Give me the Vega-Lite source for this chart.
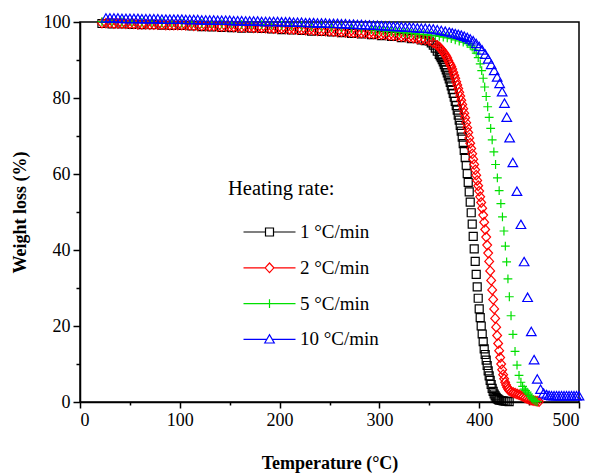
{
  "$schema": "https://vega.github.io/schema/vega-lite/v6.json",
  "width": 499,
  "height": 380,
  "autosize": {"type": "none"},
  "padding": {"left": 80, "top": 22, "right": 14, "bottom": 72},
  "background": "white",
  "config": {
    "font": "Liberation Serif",
    "view": {"stroke": "black", "strokeWidth": 1.5},
    "axis": {"grid": false, "domainColor": "black", "domainWidth": 1.5, "tickColor": "black", "tickWidth": 1.5, "labelColor": "black", "titleColor": "black", "labelFont": "Liberation Serif", "titleFont": "Liberation Serif", "labelFontSize": 18, "titleFontSize": 18, "titleFontWeight": "bold"},
    "legend": {"labelFont": "Liberation Serif", "titleFont": "Liberation Serif"}
  },
  "data": {"values": [
    {"s":"1","t":22,"w":99.6},{"s":"1","t":32,"w":99.5},{"s":"1","t":42,"w":99.5},{"s":"1","t":52,"w":99.4},{"s":"1","t":62,"w":99.3},{"s":"1","t":72,"w":99.3},{"s":"1","t":82,"w":99.2},{"s":"1","t":92,"w":99.1},{"s":"1","t":102,"w":99.1},{"s":"1","t":112,"w":99.0},{"s":"1","t":122,"w":98.8},{"s":"1","t":132,"w":98.7},{"s":"1","t":142,"w":98.6},{"s":"1","t":152,"w":98.5},{"s":"1","t":162,"w":98.4},{"s":"1","t":172,"w":98.4},{"s":"1","t":182,"w":98.3},{"s":"1","t":192,"w":98.2},{"s":"1","t":202,"w":98.0},{"s":"1","t":212,"w":97.9},{"s":"1","t":222,"w":97.8},{"s":"1","t":232,"w":97.6},{"s":"1","t":242,"w":97.5},{"s":"1","t":252,"w":97.4},{"s":"1","t":262,"w":97.2},{"s":"1","t":272,"w":97.0},{"s":"1","t":282,"w":96.9},{"s":"1","t":292,"w":96.7},{"s":"1","t":302,"w":96.4},{"s":"1","t":312,"w":96.2},{"s":"1","t":322,"w":95.9},{"s":"1","t":332,"w":95.6},{"s":"1","t":342,"w":95.3},{"s":"1","t":346,"w":95.1},
    {"s":"1","t":350,"w":95.0},{"s":"1","t":352,"w":94.5},{"s":"1","t":354,"w":93.9},{"s":"1","t":356,"w":93.1},{"s":"1","t":358,"w":92.3},{"s":"1","t":360,"w":91.5},{"s":"1","t":361,"w":91.1},{"s":"1","t":362,"w":90.6},{"s":"1","t":363,"w":90.1},{"s":"1","t":364,"w":89.5},{"s":"1","t":365,"w":88.8},{"s":"1","t":366,"w":88.1},{"s":"1","t":367,"w":87.4},{"s":"1","t":368,"w":86.6},{"s":"1","t":369,"w":85.8},{"s":"1","t":370,"w":85.0},{"s":"1","t":371,"w":84.1},{"s":"1","t":372,"w":83.2},{"s":"1","t":373,"w":82.2},{"s":"1","t":374,"w":81.2},{"s":"1","t":375,"w":80.2},{"s":"1","t":376,"w":79.1},{"s":"1","t":377,"w":78.0},{"s":"1","t":378,"w":76.8},{"s":"1","t":379,"w":75.5},{"s":"1","t":380,"w":74.2},{"s":"1","t":381,"w":72.8},{"s":"1","t":382,"w":71.3},{"s":"1","t":383,"w":69.7},{"s":"1","t":384,"w":68.0},{"s":"1","t":385,"w":66.2},{"s":"1","t":386,"w":64.3},{"s":"1","t":387,"w":62.3},{"s":"1","t":388,"w":60.1},{"s":"1","t":389,"w":57.8},{"s":"1","t":390,"w":55.3},{"s":"1","t":391,"w":52.6},{"s":"1","t":392,"w":49.8},{"s":"1","t":393,"w":46.8},{"s":"1","t":394,"w":43.6},{"s":"1","t":395,"w":40.3},{"s":"1","t":396,"w":37.0},{"s":"1","t":397,"w":33.6},{"s":"1","t":398,"w":30.3},{"s":"1","t":399,"w":27.3},{"s":"1","t":400,"w":24.5},{"s":"1","t":401,"w":22.2},{"s":"1","t":402,"w":20.0},{"s":"1","t":403,"w":17.9},{"s":"1","t":404,"w":15.9},{"s":"1","t":405,"w":14.0},{"s":"1","t":406,"w":12.5},{"s":"1","t":407,"w":11.0},{"s":"1","t":408,"w":9.6},{"s":"1","t":409,"w":8.2},{"s":"1","t":410,"w":6.9},{"s":"1","t":411,"w":5.7},{"s":"1","t":412,"w":4.6},{"s":"1","t":413,"w":3.6},{"s":"1","t":414,"w":2.8},{"s":"1","t":415,"w":2.1},{"s":"1","t":416,"w":1.6},{"s":"1","t":417,"w":1.2},{"s":"1","t":418,"w":0.9},{"s":"1","t":419,"w":0.7},{"s":"1","t":420,"w":0.5},{"s":"1","t":422,"w":0.4},{"s":"1","t":424,"w":0.3},{"s":"1","t":426,"w":0.2},{"s":"1","t":428,"w":0.2},{"s":"1","t":430,"w":0.1},
    {"s":"2","t":22,"w":99.7},{"s":"2","t":26,"w":99.7},{"s":"2","t":30,"w":99.7},{"s":"2","t":34,"w":99.6},{"s":"2","t":38,"w":99.6},{"s":"2","t":42,"w":99.6},{"s":"2","t":46,"w":99.5},{"s":"2","t":50,"w":99.5},{"s":"2","t":54,"w":99.5},{"s":"2","t":58,"w":99.4},{"s":"2","t":62,"w":99.4},{"s":"2","t":66,"w":99.4},{"s":"2","t":70,"w":99.3},{"s":"2","t":74,"w":99.3},{"s":"2","t":78,"w":99.3},{"s":"2","t":82,"w":99.3},{"s":"2","t":86,"w":99.2},{"s":"2","t":90,"w":99.2},{"s":"2","t":94,"w":99.2},{"s":"2","t":98,"w":99.2},{"s":"2","t":102,"w":99.2},{"s":"2","t":106,"w":99.1},{"s":"2","t":110,"w":99.1},{"s":"2","t":114,"w":99.0},{"s":"2","t":118,"w":99.0},{"s":"2","t":122,"w":99.0},{"s":"2","t":126,"w":98.9},{"s":"2","t":130,"w":98.9},{"s":"2","t":134,"w":98.9},{"s":"2","t":138,"w":98.8},{"s":"2","t":142,"w":98.8},{"s":"2","t":146,"w":98.8},{"s":"2","t":150,"w":98.8},{"s":"2","t":154,"w":98.7},{"s":"2","t":158,"w":98.7},{"s":"2","t":162,"w":98.6},{"s":"2","t":166,"w":98.6},{"s":"2","t":170,"w":98.6},{"s":"2","t":174,"w":98.5},{"s":"2","t":178,"w":98.5},{"s":"2","t":182,"w":98.5},{"s":"2","t":186,"w":98.4},{"s":"2","t":190,"w":98.4},{"s":"2","t":194,"w":98.3},{"s":"2","t":198,"w":98.3},{"s":"2","t":202,"w":98.3},{"s":"2","t":206,"w":98.2},{"s":"2","t":210,"w":98.1},{"s":"2","t":214,"w":98.1},{"s":"2","t":218,"w":98.0},{"s":"2","t":222,"w":98.0},{"s":"2","t":226,"w":97.9},{"s":"2","t":230,"w":97.9},{"s":"2","t":234,"w":97.8},{"s":"2","t":238,"w":97.7},{"s":"2","t":242,"w":97.7},{"s":"2","t":246,"w":97.6},{"s":"2","t":250,"w":97.6},{"s":"2","t":254,"w":97.5},{"s":"2","t":258,"w":97.4},{"s":"2","t":262,"w":97.4},{"s":"2","t":266,"w":97.3},{"s":"2","t":270,"w":97.3},{"s":"2","t":274,"w":97.2},{"s":"2","t":278,"w":97.1},{"s":"2","t":282,"w":97.1},{"s":"2","t":286,"w":97.0},{"s":"2","t":290,"w":96.9},{"s":"2","t":294,"w":96.9},{"s":"2","t":298,"w":96.8},{"s":"2","t":302,"w":96.7},{"s":"2","t":306,"w":96.6},{"s":"2","t":310,"w":96.5},{"s":"2","t":314,"w":96.4},{"s":"2","t":318,"w":96.3},{"s":"2","t":322,"w":96.2},{"s":"2","t":326,"w":96.1},{"s":"2","t":330,"w":96.0},{"s":"2","t":334,"w":95.8},{"s":"2","t":338,"w":95.6},{"s":"2","t":342,"w":95.4},{"s":"2","t":346,"w":95.3},{"s":"2","t":350,"w":95.1},{"s":"2","t":354,"w":94.5},{"s":"2","t":358,"w":93.8},
    {"s":"2","t":360,"w":93.4},{"s":"2","t":361,"w":93.1},{"s":"2","t":362,"w":92.8},{"s":"2","t":363,"w":92.5},{"s":"2","t":364,"w":92.1},{"s":"2","t":365,"w":91.8},{"s":"2","t":366,"w":91.4},{"s":"2","t":367,"w":91.0},{"s":"2","t":368,"w":90.5},{"s":"2","t":369,"w":89.9},{"s":"2","t":370,"w":89.3},{"s":"2","t":371,"w":88.8},{"s":"2","t":372,"w":88.3},{"s":"2","t":373,"w":87.6},{"s":"2","t":374,"w":86.8},{"s":"2","t":375,"w":86.0},{"s":"2","t":376,"w":85.2},{"s":"2","t":377,"w":84.3},{"s":"2","t":378,"w":83.4},{"s":"2","t":379,"w":82.5},{"s":"2","t":380,"w":81.5},{"s":"2","t":381,"w":80.5},{"s":"2","t":382,"w":79.4},{"s":"2","t":383,"w":78.3},{"s":"2","t":384,"w":77.2},{"s":"2","t":385,"w":76.0},{"s":"2","t":386,"w":74.8},{"s":"2","t":387,"w":73.5},{"s":"2","t":388,"w":72.2},{"s":"2","t":389,"w":70.9},{"s":"2","t":390,"w":69.5},{"s":"2","t":391,"w":68.1},{"s":"2","t":392,"w":66.7},{"s":"2","t":393,"w":65.3},{"s":"2","t":394,"w":63.9},{"s":"2","t":395,"w":62.5},{"s":"2","t":396,"w":61.1},{"s":"2","t":397,"w":59.7},{"s":"2","t":398,"w":58.3},{"s":"2","t":399,"w":56.9},{"s":"2","t":400,"w":55.5},{"s":"2","t":401,"w":54.0},{"s":"2","t":402,"w":52.5},{"s":"2","t":403,"w":51.0},{"s":"2","t":404,"w":49.2},{"s":"2","t":405,"w":47.3},{"s":"2","t":406,"w":45.4},{"s":"2","t":407,"w":43.4},{"s":"2","t":408,"w":41.3},{"s":"2","t":409,"w":39.2},{"s":"2","t":410,"w":37.0},{"s":"2","t":411,"w":34.5},{"s":"2","t":412,"w":32.0},{"s":"2","t":413,"w":29.5},{"s":"2","t":414,"w":27.0},{"s":"2","t":415,"w":24.5},{"s":"2","t":416,"w":22.0},{"s":"2","t":417,"w":19.7},{"s":"2","t":418,"w":17.5},{"s":"2","t":419,"w":15.4},{"s":"2","t":420,"w":13.5},{"s":"2","t":421,"w":11.7},{"s":"2","t":422,"w":10.0},{"s":"2","t":423,"w":8.5},{"s":"2","t":424,"w":7.2},{"s":"2","t":425,"w":6.1},{"s":"2","t":426,"w":5.2},{"s":"2","t":427,"w":4.5},{"s":"2","t":428,"w":3.9},{"s":"2","t":429,"w":3.4},{"s":"2","t":430,"w":3.0},{"s":"2","t":432,"w":2.7},{"s":"2","t":434,"w":2.5},{"s":"2","t":436,"w":2.3},{"s":"2","t":438,"w":2.1},{"s":"2","t":440,"w":1.9},{"s":"2","t":442,"w":1.7},{"s":"2","t":444,"w":1.4},{"s":"2","t":446,"w":1.1},{"s":"2","t":448,"w":0.9},{"s":"2","t":450,"w":0.7},{"s":"2","t":452,"w":0.5},{"s":"2","t":454,"w":0.4},{"s":"2","t":456,"w":0.3},{"s":"2","t":458,"w":0.2},{"s":"2","t":460,"w":0.1},
    {"s":"5","t":22,"w":100.1},{"s":"5","t":32,"w":100.1},{"s":"5","t":42,"w":100.0},{"s":"5","t":52,"w":100.0},{"s":"5","t":62,"w":99.9},{"s":"5","t":72,"w":99.9},{"s":"5","t":82,"w":99.8},{"s":"5","t":92,"w":99.8},{"s":"5","t":102,"w":99.7},{"s":"5","t":112,"w":99.7},{"s":"5","t":122,"w":99.6},{"s":"5","t":132,"w":99.6},{"s":"5","t":142,"w":99.5},{"s":"5","t":152,"w":99.5},{"s":"5","t":162,"w":99.4},{"s":"5","t":172,"w":99.3},{"s":"5","t":182,"w":99.3},{"s":"5","t":192,"w":99.2},{"s":"5","t":202,"w":99.1},{"s":"5","t":212,"w":99.0},{"s":"5","t":222,"w":98.9},{"s":"5","t":232,"w":98.8},{"s":"5","t":242,"w":98.7},{"s":"5","t":252,"w":98.6},{"s":"5","t":262,"w":98.5},{"s":"5","t":272,"w":98.3},{"s":"5","t":282,"w":98.2},{"s":"5","t":292,"w":98.0},{"s":"5","t":296,"w":97.9},{"s":"5","t":300,"w":97.8},{"s":"5","t":304,"w":97.7},{"s":"5","t":308,"w":97.6},{"s":"5","t":312,"w":97.5},{"s":"5","t":316,"w":97.4},{"s":"5","t":320,"w":97.3},{"s":"5","t":324,"w":97.2},{"s":"5","t":328,"w":97.1},{"s":"5","t":332,"w":97.0},{"s":"5","t":336,"w":96.9},{"s":"5","t":340,"w":96.8},{"s":"5","t":344,"w":96.7},{"s":"5","t":348,"w":96.6},{"s":"5","t":352,"w":96.5},{"s":"5","t":356,"w":96.4},{"s":"5","t":360,"w":96.2},{"s":"5","t":364,"w":96.0},{"s":"5","t":368,"w":95.8},{"s":"5","t":372,"w":95.6},{"s":"5","t":376,"w":95.3},{"s":"5","t":380,"w":95.0},{"s":"5","t":384,"w":94.7},{"s":"5","t":388,"w":94.3},{"s":"5","t":391,"w":93.9},{"s":"5","t":393,"w":93.4},{"s":"5","t":395,"w":92.7},{"s":"5","t":397,"w":91.8},{"s":"5","t":399,"w":90.6},{"s":"5","t":401,"w":89.0},{"s":"5","t":402.5,"w":87.2},{"s":"5","t":404,"w":85.2},{"s":"5","t":405.5,"w":82.9},{"s":"5","t":407,"w":80.4},{"s":"5","t":408.5,"w":77.7},{"s":"5","t":410,"w":74.9},{"s":"5","t":411.5,"w":72.0},{"s":"5","t":413,"w":69.0},{"s":"5","t":414.7,"w":65.8},{"s":"5","t":416.4,"w":62.5},{"s":"5","t":418.2,"w":59.0},{"s":"5","t":420,"w":55.6},{"s":"5","t":421.7,"w":52.2},{"s":"5","t":423.3,"w":48.7},{"s":"5","t":424.8,"w":45.0},{"s":"5","t":426.2,"w":41.0},{"s":"5","t":427.5,"w":36.9},{"s":"5","t":428.8,"w":32.4},{"s":"5","t":430.2,"w":27.7},{"s":"5","t":431.9,"w":22.7},{"s":"5","t":433.8,"w":17.8},{"s":"5","t":435.9,"w":13.3},{"s":"5","t":437.9,"w":9.7},{"s":"5","t":439.9,"w":7.0},{"s":"5","t":441.8,"w":5.2},{"s":"5","t":443.5,"w":4.1},{"s":"5","t":445,"w":3.4},{"s":"5","t":446.5,"w":3.0},{"s":"5","t":448,"w":2.6},{"s":"5","t":449.5,"w":2.1},{"s":"5","t":451,"w":1.5},{"s":"5","t":452.5,"w":1.0},{"s":"5","t":454,"w":0.6},{"s":"5","t":456,"w":0.3},{"s":"5","t":458,"w":0.1},
    {"s":"10","t":26,"w":100.9},{"s":"10","t":30,"w":100.9},{"s":"10","t":34,"w":100.9},{"s":"10","t":38,"w":100.9},{"s":"10","t":42,"w":100.8},{"s":"10","t":46,"w":100.8},{"s":"10","t":50,"w":100.8},{"s":"10","t":54,"w":100.8},{"s":"10","t":58,"w":100.8},{"s":"10","t":62,"w":100.7},{"s":"10","t":66,"w":100.7},{"s":"10","t":70,"w":100.7},{"s":"10","t":74,"w":100.7},{"s":"10","t":78,"w":100.7},{"s":"10","t":82,"w":100.6},{"s":"10","t":86,"w":100.6},{"s":"10","t":90,"w":100.6},{"s":"10","t":94,"w":100.6},{"s":"10","t":98,"w":100.6},{"s":"10","t":102,"w":100.6},{"s":"10","t":106,"w":100.5},{"s":"10","t":110,"w":100.5},{"s":"10","t":114,"w":100.5},{"s":"10","t":118,"w":100.5},{"s":"10","t":122,"w":100.4},{"s":"10","t":126,"w":100.4},{"s":"10","t":130,"w":100.4},{"s":"10","t":134,"w":100.4},{"s":"10","t":138,"w":100.3},{"s":"10","t":142,"w":100.3},{"s":"10","t":146,"w":100.3},{"s":"10","t":150,"w":100.3},{"s":"10","t":154,"w":100.2},{"s":"10","t":158,"w":100.2},{"s":"10","t":162,"w":100.2},{"s":"10","t":166,"w":100.1},{"s":"10","t":170,"w":100.1},{"s":"10","t":174,"w":100.1},{"s":"10","t":178,"w":100.1},{"s":"10","t":182,"w":100.0},{"s":"10","t":186,"w":100.0},{"s":"10","t":190,"w":100.0},{"s":"10","t":194,"w":100.0},{"s":"10","t":198,"w":100.0},{"s":"10","t":202,"w":99.9},{"s":"10","t":206,"w":99.9},{"s":"10","t":210,"w":99.9},{"s":"10","t":214,"w":99.8},{"s":"10","t":218,"w":99.8},{"s":"10","t":222,"w":99.8},{"s":"10","t":226,"w":99.7},{"s":"10","t":230,"w":99.7},{"s":"10","t":234,"w":99.7},{"s":"10","t":238,"w":99.6},{"s":"10","t":242,"w":99.6},{"s":"10","t":246,"w":99.6},{"s":"10","t":250,"w":99.5},{"s":"10","t":254,"w":99.5},{"s":"10","t":258,"w":99.5},{"s":"10","t":262,"w":99.4},{"s":"10","t":266,"w":99.4},{"s":"10","t":270,"w":99.3},{"s":"10","t":274,"w":99.3},{"s":"10","t":278,"w":99.2},{"s":"10","t":282,"w":99.2},{"s":"10","t":286,"w":99.1},{"s":"10","t":290,"w":99.1},{"s":"10","t":294,"w":99.0},{"s":"10","t":298,"w":99.0},{"s":"10","t":302,"w":98.9},{"s":"10","t":306,"w":98.8},{"s":"10","t":310,"w":98.8},{"s":"10","t":314,"w":98.7},{"s":"10","t":318,"w":98.7},{"s":"10","t":322,"w":98.6},{"s":"10","t":326,"w":98.5},{"s":"10","t":330,"w":98.5},{"s":"10","t":334,"w":98.4},{"s":"10","t":338,"w":98.3},{"s":"10","t":342,"w":98.2},{"s":"10","t":346,"w":98.2},{"s":"10","t":350,"w":98.1},{"s":"10","t":354,"w":98.0},{"s":"10","t":358,"w":97.8},{"s":"10","t":362,"w":97.6},{"s":"10","t":366,"w":97.4},{"s":"10","t":370,"w":97.2},{"s":"10","t":373,"w":97.0},{"s":"10","t":376,"w":96.8},{"s":"10","t":379,"w":96.6},{"s":"10","t":382,"w":96.4},{"s":"10","t":385,"w":96.1},{"s":"10","t":388,"w":95.8},{"s":"10","t":391,"w":95.4},{"s":"10","t":394,"w":94.9},{"s":"10","t":397,"w":94.2},{"s":"10","t":400,"w":93.4},{"s":"10","t":403,"w":92.5},{"s":"10","t":406,"w":91.4},{"s":"10","t":409,"w":90.1},{"s":"10","t":412,"w":88.7},{"s":"10","t":415,"w":87.1},{"s":"10","t":418,"w":85.4},{"s":"10","t":420.5,"w":83.7},{"s":"10","t":423,"w":81.5},{"s":"10","t":425.3,"w":78.5},{"s":"10","t":427.6,"w":74.8},{"s":"10","t":430.5,"w":69.4},{"s":"10","t":433.7,"w":62.9},{"s":"10","t":437.8,"w":55.3},{"s":"10","t":441.8,"w":46.6},{"s":"10","t":445,"w":36.8},{"s":"10","t":448.5,"w":27.4},{"s":"10","t":452.2,"w":18.4},{"s":"10","t":455,"w":11.0},{"s":"10","t":458.2,"w":5.9},{"s":"10","t":461.5,"w":3.2},{"s":"10","t":464.5,"w":2.2},{"s":"10","t":467.5,"w":1.8},{"s":"10","t":470,"w":1.6},{"s":"10","t":472.5,"w":1.5},{"s":"10","t":475,"w":1.5},{"s":"10","t":477.5,"w":1.5},{"s":"10","t":480,"w":1.5},{"s":"10","t":482.5,"w":1.5},{"s":"10","t":485,"w":1.5},{"s":"10","t":487.5,"w":1.5},{"s":"10","t":490,"w":1.5},{"s":"10","t":492.5,"w":1.5},{"s":"10","t":495,"w":1.5},{"s":"10","t":497.5,"w":1.5},{"s":"10","t":500,"w":1.5}
  ]},
  "encoding": {
    "x": {"field": "t", "type": "quantitative",
      "scale": {"domain": [0, 500], "nice": false, "zero": false},
      "axis": {"title": "Temperature (°C)", "values": [0,50,100,150,200,250,300,350,400,450,500],
        "labelExpr": "datum.value % 100 === 0 ? datum.label : ''", "labelOverlap": false,
        "labelFont": "Liberation Serif", "labelFontSize": 18,
        "tickSize": {"condition": {"test": "datum.value % 100 === 0", "value": 6}, "value": 3},
        "labelPadding": 3, "titlePadding": 25}},
    "y": {"field": "w", "type": "quantitative",
      "scale": {"domain": [0, 100], "nice": false, "zero": false},
      "axis": {"title": "Weight loss (%)", "values": [0,10,20,30,40,50,60,70,80,90,100],
        "labelExpr": "datum.value % 20 === 0 ? datum.label : ''", "labelOverlap": false,
        "labelFont": "Liberation Serif", "labelFontSize": 18,
        "tickSize": {"condition": {"test": "datum.value % 20 === 0", "value": 7}, "value": 4},
        "labelPadding": 3, "titlePadding": 14}}
  },
  "layer": [
    {
      "mark": {"type": "point", "filled": false, "size": 64, "strokeWidth": 1.2, "opacity": 1},
      "encoding": {
        "color": {"field": "s", "type": "nominal", "legend": null,
          "scale": {"domain": ["1","2","5","10"], "range": ["#000000","#ff0000","#00e000","#0000ff"]}},
        "shape": {"field": "s", "type": "nominal", "legend": null,
          "scale": {"domain": ["1","2","5","10"], "range": ["M-1,-1H1V1H-1Z","M0,-1.2L1.1,0L0,1.2L-1.1,0Z","M-1.1,0H1.1M0,-1.1V1.1","M0,-1.2L1.2,0.9H-1.2Z"]}}
      }
    },
    {
      "transform": [{"filter": "false"}],
      "mark": {"type": "point", "filled": false, "size": 64, "strokeWidth": 1.2, "opacity": 1},
      "encoding": {
        "color": {"field": "s", "type": "nominal",
          "scale": {"domain": ["1","2","5","10"], "range": ["#000000","#ff0000","#00e000","#0000ff"]},
          "legend": {"title": "Heating rate:", "orient": "none", "legendX": 148, "legendY": 157,
            "padding": 0, "titleFontSize": 20.5, "titleFontWeight": "normal", "titleColor": "black", "titlePadding": 23,
            "labelFontSize": 19, "labelColor": "black", "labelOffset": 53, "rowPadding": 15.8,
            "symbolSize": 64, "symbolStrokeWidth": 1.2,
            "labelExpr": "datum.label + ' °C/min'"}},
        "shape": {"field": "s", "type": "nominal",
          "scale": {"domain": ["1","2","5","10"], "range": ["M1.5,0H7M7,-1H9V1H7ZM9,0H14.5","M1.5,0H6.9M6.9,0L8,-1.2L9.1,0L8,1.2ZM9.1,0H14.5","M1.5,0H14.5M8,-1.1V1.1","M1.5,0H7.3M6.8,0.9L8,-1.2L9.2,0.9ZM8.7,0H14.5"]},
          "legend": {"title": "Heating rate:", "orient": "none", "legendX": 148, "legendY": 157,
            "padding": 0, "titleFontSize": 20.5, "titleFontWeight": "normal", "titleColor": "black", "titlePadding": 23,
            "labelFontSize": 19, "labelColor": "black", "labelOffset": 53, "rowPadding": 15.8,
            "symbolSize": 64, "symbolStrokeWidth": 1.2,
            "labelExpr": "datum.label + ' °C/min'"}}
      }
    }
  ],
  "resolve": {"scale": {"color": "independent", "shape": "independent"}}
}
